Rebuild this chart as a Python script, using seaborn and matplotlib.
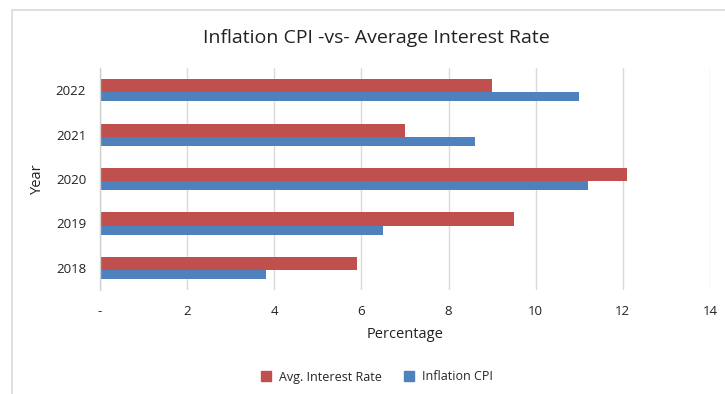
import matplotlib
matplotlib.use("Agg")
import matplotlib.pyplot as plt
from matplotlib.patches import Rectangle
import pandas as pd
import seaborn as sns

years = ["2022", "2021", "2020", "2019", "2018"]
interest_rate = [9.0, 7.0, 12.1, 9.5, 5.9]
inflation_cpi = [11.0, 8.6, 11.2, 6.5, 3.8]
series_names = ["Avg. Interest Rate", "Inflation CPI"]
x_ticks = [0, 2, 4, 6, 8, 10, 12, 14]
x_tick_labels = ["-", "2", "4", "6", "8", "10", "12", "14"]

colors = {"Avg. Interest Rate": "#C0504D", "Inflation CPI": "#4F81BD"}

df = pd.DataFrame({
    "Year": years * 2,
    "Percentage": interest_rate + inflation_cpi,
    "Series": [series_names[0]] * len(years) + [series_names[1]] * len(years),
})

sns.set_theme(style="white")
plt.rcParams["font.family"] = ["Open Sans", "DejaVu Sans"]

fig = plt.figure(figsize=(7.25, 3.94), dpi=100)
ax = fig.add_axes([100 / 725, 1 - 290 / 394, 610 / 725, 222 / 394])

sns.barplot(data=df, y="Year", x="Percentage", hue="Series", order=years,
            hue_order=series_names, palette=colors, orient="h", width=0.5,
            saturation=1, ax=ax, legend=True)

# Red bars a bit thicker, blue bars thinner, stacked tightly within each group
for i, p in enumerate(ax.patches[:2 * len(years)]):
    grp = i % len(years)
    if i < len(years):
        p.set_y(grp - 0.25)
        p.set_height(0.30)
    else:
        p.set_y(grp + 0.05)
        p.set_height(0.20)
    p.set_linewidth(0)

ax.set_xlim(0, 14)
ax.set_ylim(len(years) - 0.5, -0.5)
ax.set_xticks(x_ticks)
ax.set_xticklabels(x_tick_labels, fontsize=9.5, color="#222222")
ax.tick_params(axis="y", labelsize=9.5, labelcolor="#222222", length=0, pad=10)
ax.tick_params(axis="x", length=0, pad=11)
ax.xaxis.grid(True, color="#DADADA", linewidth=1)
ax.set_axisbelow(True)
for s in ["top", "right", "bottom"]:
    ax.spines[s].set_visible(False)
ax.spines["left"].set_color("#D0D0D0")
ax.spines["left"].set_linewidth(1)

ax.set_xlabel("Percentage", fontsize=10.5, color="#222222", labelpad=6)
ax.set_ylabel("Year", fontsize=10.5, color="#222222", labelpad=8)

fig.text(0.519, 1 - 38 / 394, "Inflation CPI -vs- Average Interest Rate",
         ha="center", va="center", fontsize=14, color="#222222")

ax.legend_.remove()
handles = [Rectangle((0, 0), 1, 1, color=colors[n]) for n in series_names]
fig.legend(handles, series_names, loc="center", bbox_to_anchor=(0.52, 1 - 377 / 394),
           ncol=2, frameon=False, fontsize=9, handlelength=0.8, handleheight=0.8,
           handletextpad=0.6, columnspacing=1.8)

# Outer chart frame
fig.patches.append(Rectangle((12 / 725, -0.01), 1.0, 1 - 10 / 394 + 0.01,
                             transform=fig.transFigure, fill=False,
                             edgecolor="#D9D9D9", linewidth=1.2))

fig.savefig("out.png", dpi=100)
